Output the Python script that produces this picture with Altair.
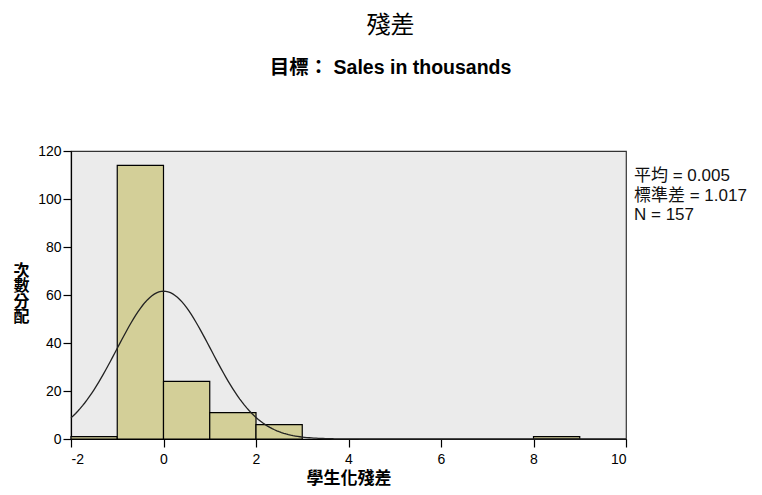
import altair as alt
import pandas as pd

# Histogram bins (studentized residuals) and counts
bin_start = [-2, -1, 0, 1, 2, 8]
bin_end = [-1, 0, 1, 2, 3, 9]
counts = [1, 114, 24, 11, 6, 1]

# Summary statistics shown at right
mean_val = 0.005
sd_val = 1.017
n_val = 157
bin_width = 1

x_ticks = [-2, 0, 2, 4, 6, 8, 10]
y_ticks = [0, 20, 40, 60, 80, 100, 120]

FONT = "Liberation Sans, Arial, Noto Sans CJK TC, sans-serif"

bars_df = pd.DataFrame({"start": bin_start, "end": bin_end, "count": counts})

xscale = alt.Scale(domain=[-2, 10], nice=False, zero=False)
yscale = alt.Scale(domain=[0, 120], nice=False)

bars = alt.Chart(bars_df).mark_rect(
    fill="#D3CF98", stroke="#000000", strokeWidth=1.2
).encode(
    x=alt.X("start:Q", scale=xscale,
            axis=alt.Axis(values=x_ticks, title="學生化殘差", labelExpr="'' + datum.value",
                          labelPadding=5,
                          titleFontWeight="bold", titleFontSize=17, titlePadding=4)),
    x2="end:Q",
    y=alt.Y("count:Q", scale=yscale,
            axis=alt.Axis(values=y_ticks, labelExpr="'' + datum.value",
                          title=["次", "數", "分", "配"],
                          titleAngle=0, titleFontWeight="bold", titleFontSize=16,
                          titleLineHeight=15.5, titleAlign="center", titleBaseline="top",
                          titleX=-50, titleY=111)),
    y2=alt.datum(0),
)

curve = alt.Chart(alt.sequence(-2, 10.01, 0.05, as_="x")).transform_calculate(
    y=f"{n_val}*{bin_width}*exp(-0.5*pow((datum.x-{mean_val})/{sd_val},2))/({sd_val}*sqrt(2*PI))"
).mark_line(color="#222222", strokeWidth=1.3).encode(
    x=alt.X("x:Q", scale=xscale),
    y=alt.Y("y:Q", scale=yscale),
)

legend_lines = [f"平均 = {mean_val:.3f}", f"標準差 = {sd_val:.3f}", f"N = {n_val}"]
text_df = pd.DataFrame({"t": ["\n".join(legend_lines)]})
stats = alt.Chart(text_df).mark_text(
    align="left", baseline="top", fontSize=17, lineHeight=19.5, lineBreak="\n",
    color="#111111", font=FONT
).encode(
    x=alt.value(563), y=alt.value(17), text="t:N"
)

chart = alt.layer(bars, curve, stats).properties(
    width=555, height=288,
    autosize=alt.AutoSizeParams(type="none"),
    padding={"left": 63, "top": 143, "right": 127, "bottom": 48},
    background="white",
    title=alt.TitleParams(
        text="殘差", subtitle="目標： Sales in thousands",
        fontSize=24, fontWeight="normal", subtitleFontSize=19.5, subtitleFontWeight="bold",
        subtitleColor="#000000", color="#000000", anchor="middle", frame="group",
        dx=42, offset=67, subtitlePadding=21, font=FONT, subtitleFont=FONT,
    ),
).configure_view(
    fill="#EBEBEB", stroke="#333333", strokeWidth=1.2
).configure_axis(
    grid=False, domainColor="#000000", tickColor="#000000", labelColor="#000000",
    titleColor="#000000", labelFontSize=14, tickSize=8, labelFont=FONT, titleFont=FONT,
    domainWidth=1.2, tickWidth=1.2, labelPadding=2
)

chart.save("out.html", embed_options={"renderer": "svg", "actions": False})
